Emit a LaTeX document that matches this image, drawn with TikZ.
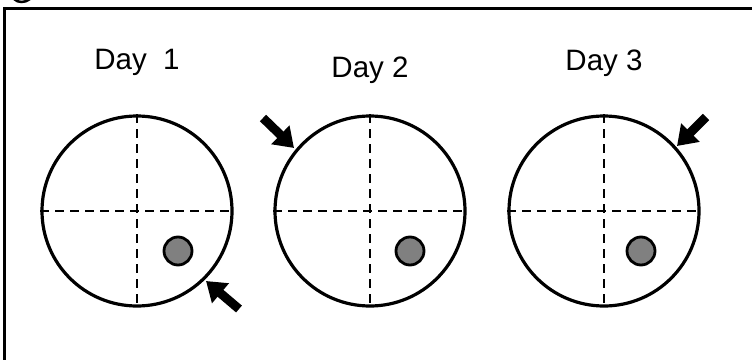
\documentclass[tikz,border=0pt]{standalone}
\usepackage{fontspec}
\setmainfont{Liberation Sans}
\usetikzlibrary{arrows.meta}
\begin{document}
\begin{tikzpicture}[x=1pt,y=-1pt,
  dish/.style={circle,draw,line width=3.2pt,minimum size=190pt,inner sep=0pt},
  grid/.style={line width=2.8pt,dash pattern=on 9pt off 6pt},
  spot/.style={circle,draw,line width=2.8pt,fill=black!50,minimum size=28pt,inner sep=0pt},
  pointer/.style={line width=9pt,-{Triangle[width=25pt,length=19pt]}},
  daylabel/.style={font=\fontsize{29.5}{32}\selectfont,anchor=base}]
\useasboundingbox (0,0) rectangle (752,359);
\fill[white] (0,0) rectangle (752,359);
\draw[line width=3pt] (4,370) -- (4,8) -- (760,8);
\draw[line width=2.5pt] (14,-1) .. controls (18,3) and (25,3) .. (30,-1);
\foreach \i/\cx/\dx/\ly in {1/137/178/69,2/370/410/77,3/604/641/70}{
  \node[dish] (d\i) at (\cx,211) {};
  \draw[grid] (d\i.north) -- (d\i.south);
  \draw[grid] (d\i.west) -- (d\i.east);
  \node[spot] (s\i) at (\dx,251) {};
  \node[daylabel] (t\i) at (\cx,\ly) {Day \ifnum\i=1\ \fi\i};
}
\coordinate (a1) at (239,309); \coordinate (b1) at (206,281);
\coordinate (a2) at (263,118); \coordinate (b2) at (294,148);
\coordinate (a3) at (706,117); \coordinate (b3) at (677,146);
\draw[pointer] (a1) -- (b1);
\draw[pointer] (a2) -- (b2);
\draw[pointer] (a3) -- (b3);
\end{tikzpicture}
\end{document}
